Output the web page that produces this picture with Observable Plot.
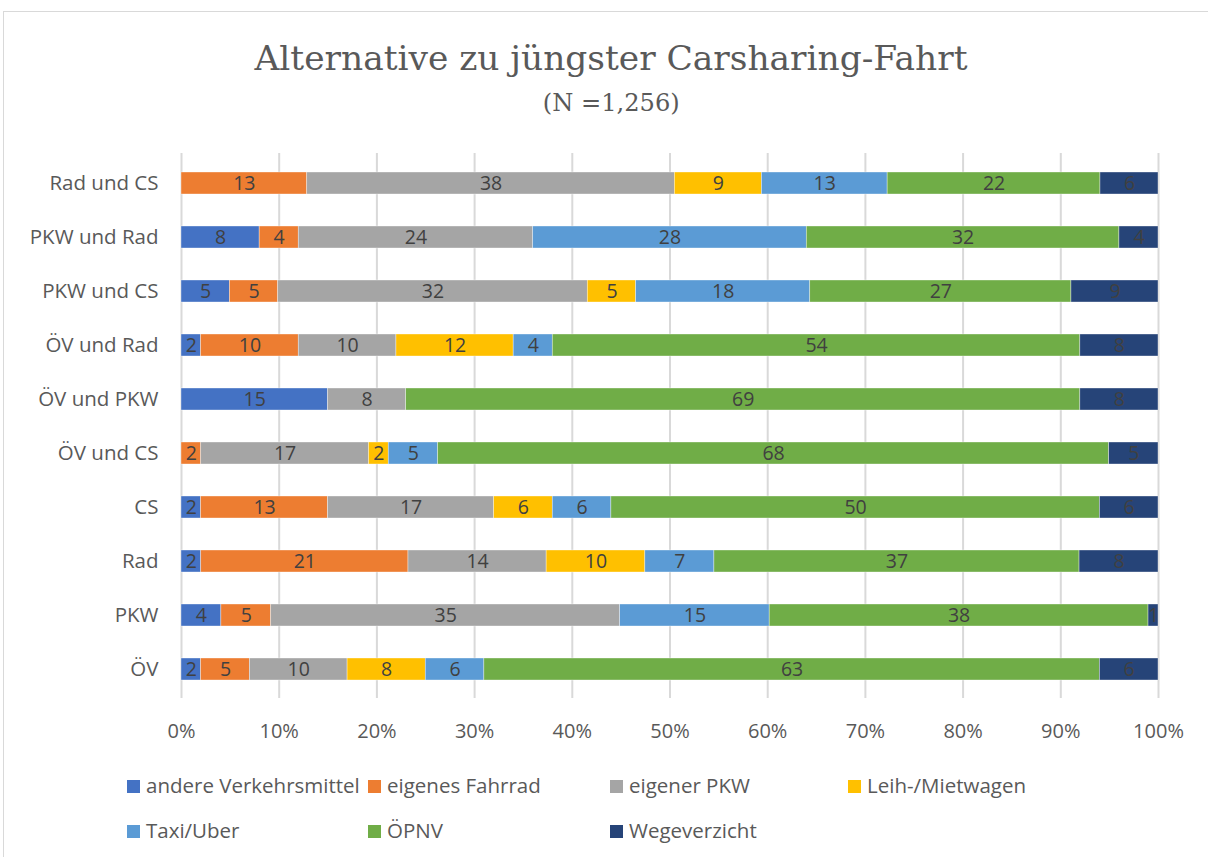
<!DOCTYPE html>
<html><head><meta charset="utf-8">
<script src="https://cdn.jsdelivr.net/npm/d3@7"></script>
<script src="https://cdn.jsdelivr.net/npm/@observablehq/plot@0.6"></script>
<style>
body{margin:0;width:1208px;height:857px;overflow:hidden;background:#fff;position:relative;font-family:"Open Sans",Lato,sans-serif;}
#frame{position:absolute;left:3px;top:11px;width:1230px;height:900px;border:1.5px solid #D9D9D9;box-sizing:border-box;}
.ttl{position:absolute;left:7px;width:1208px;text-align:center;font-family:"DejaVu Serif Condensed","DejaVu Serif",serif;color:#595959;white-space:nowrap;}
.ttl span{display:inline-block;transform-origin:50% 50%;}
#title{top:34px;font-size:34px;line-height:48px;}
#subtitle{top:87px;font-size:24px;line-height:32px;}
#chart{position:absolute;left:0;top:140px;}
.leg{position:absolute;font-size:20.5px;color:#595959;line-height:26px;white-space:nowrap;}
.sw{display:inline-block;width:13px;height:13px;margin-right:6px;vertical-align:0px;}
</style></head>
<body>
<div id="frame"></div>
<div id="title" class="ttl"><span>Alternative zu jüngster Carsharing-Fahrt</span></div>
<div id="subtitle" class="ttl"><span>(N =1,256)</span></div>
<div id="chart"></div>
<div id="legend"></div>
<script>
const categories = ["Rad und CS","PKW und Rad","PKW und CS","ÖV und Rad","ÖV und PKW","ÖV und CS","CS","Rad","PKW","ÖV"];
const series = ["andere Verkehrsmittel","eigenes Fahrrad","eigener PKW","Leih-/Mietwagen","Taxi/Uber","ÖPNV","Wegeverzicht"];
const colors = ["#4472C4","#ED7D31","#A5A5A5","#FFC000","#5B9BD5","#70AD47","#264478"];
const andere   = [0, 8, 5, 2,15, 0, 2, 2, 4, 2];
const fahrrad  = [13, 4, 5,10, 0, 2,13,21, 5, 5];
const eigPKW   = [38,24,32,10, 8,17,17,14,35,10];
const leih     = [9, 0, 5,12, 0, 2, 6,10, 0, 8];
const taxi     = [13,28,18, 4, 0, 5, 6, 7,15, 6];
const oepnv    = [22,32,27,54,69,68,50,37,38,63];
const wege     = [6, 4, 9, 8, 8, 5, 6, 8, 1, 6];
const xTicks = [0,0.1,0.2,0.3,0.4,0.5,0.6,0.7,0.8,0.9,1];
const xTickLabels = ["0%","10%","20%","30%","40%","50%","60%","70%","80%","90%","100%"];
const legendX = [127,368,610,848,127,368,610];
const legendY = [772,772,772,772,817,817,817];

const seriesValues = [andere,fahrrad,eigPKW,leih,taxi,oepnv,wege];
const data = [];
series.forEach((s,si)=>categories.forEach((c,ci)=>{
  const v = seriesValues[si][ci];
  if (v > 0) data.push({category:c, series:s, value:v});
}));

const chart = Plot.plot({
  width:1208, height:620,
  marginLeft:181, marginRight:50, marginTop:13, marginBottom:62,
  style:{fontFamily:"'Open Sans', Lato, sans-serif", fontSize:"20px", color:"#595959", background:"transparent"},
  x:{domain:[0,1], label:null, axis:null},
  y:{domain:categories, label:null, axis:null, paddingInner:0.6, paddingOuter:0.3},
  color:{domain:series, range:colors},
  marks:[
    Plot.gridX(xTicks, {stroke:"#D9D9D9", strokeOpacity:1, strokeWidth:2}),
    Plot.barX(data, Plot.stackX({x:"value", y:"category", fill:"series", order:series, offset:"normalize", stroke:"#ffffff", strokeWidth:0.6, strokeOpacity:0.6})),
    Plot.text(data, Plot.stackX({x:"value", y:"category", z:"series", order:series, offset:"normalize", text:d=>String(d.value), fill:"#404040", fontSize:19.5})),
    Plot.axisX(xTicks, {tickSize:0, tickPadding:25, tickFormat:(d,i)=>xTickLabels[i], fontSize:20, fill:"#595959"}),
    Plot.axisY(categories, {tickSize:0, tickPadding:23, fontSize:20.5, fill:"#595959"})
  ]
});
document.getElementById("chart").appendChild(chart);

const leg = document.getElementById("legend");
series.forEach((s,i)=>{
  const d = document.createElement("div");
  d.className = "leg";
  d.style.left = legendX[i] + "px";
  d.style.top = legendY[i] + "px";
  d.innerHTML = `<span class="sw" style="background:${colors[i]}"></span>${s}`;
  leg.appendChild(d);
});

// fit title widths to reference extents
[["#title span",713],["#subtitle span",137]].forEach(([sel,w])=>{
  const el = document.querySelector(sel);
  const cw = el.getBoundingClientRect().width;
  el.style.transform = `scaleX(${w/cw})`;
});
</script>
</body></html>
